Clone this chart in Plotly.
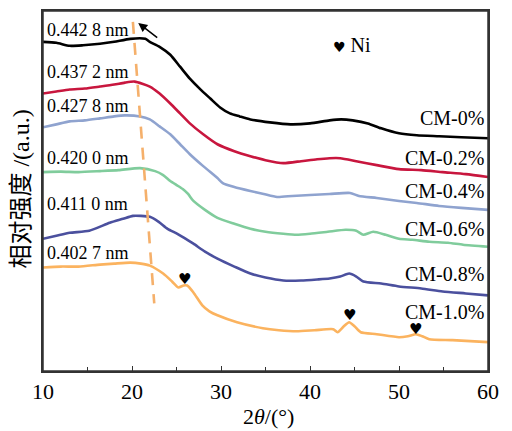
import plotly.graph_objects as go

# ---- data (2θ in degrees, relative intensity in arbitrary units) ----
series_names = ["CM-0%", "CM-0.2%", "CM-0.4%", "CM-0.6%", "CM-0.8%", "CM-1.0%"]
spacing_labels = ["0.442 8 nm", "0.437 2 nm", "0.427 8 nm", "0.420 0 nm", "0.411 0 nm", "0.402 7 nm"]

x_cm00 = [10.0, 11.5, 13.0, 14.5, 16.4, 18.0, 19.8, 21.5, 22.0, 23.1, 24.3, 25.4, 26.5, 27.6, 28.8, 29.9, 31.0, 32.1, 33.3, 35.5, 37.8, 40.0, 42.2, 43.5, 44.8, 46.5, 48.0, 50.0, 52.0, 54.5, 57.0, 60.0]
y_cm00 = [331, 330, 327, 327.5, 329, 331, 334, 334, 331, 326, 318, 306, 294, 284, 274, 265, 259, 256, 253, 250, 248, 249, 252, 253, 252, 249, 244, 239, 237, 236, 235, 234]

x_cm02 = [10.0, 11.5, 13.0, 14.7, 16.4, 18.0, 19.2, 20.3, 22.0, 23.1, 24.3, 25.4, 26.5, 28.0, 29.6, 31.5, 33.3, 35.0, 37.0, 39.0, 40.8, 42.2, 43.4, 45.2, 47.5, 50.0, 52.5, 54.9, 57.5, 60.0]
y_cm02 = [279, 281, 283, 284, 286, 288, 290, 291, 286, 279, 269, 259, 249, 238, 228, 221, 216, 212, 209, 211, 213, 214, 214, 211, 207, 203, 202, 200, 198, 195]

x_cm04 = [10.0, 11.5, 13.0, 14.7, 16.4, 18.0, 19.2, 20.9, 22.0, 23.1, 24.3, 25.4, 26.5, 28.0, 29.6, 30.2, 31.5, 33.3, 34.8, 36.3, 38.0, 40.0, 42.2, 44.5, 45.5, 47.5, 50.0, 52.0, 54.5, 57.0, 60.0]
y_cm04 = [245, 248, 251, 252, 254, 256, 257, 256, 253, 246, 238, 228, 218, 206, 194, 189, 185, 181, 178, 175, 176, 177, 178, 179, 176, 174, 171, 169, 166, 164, 162]

x_cm06 = [10.0, 12.0, 14.0, 16.4, 18.5, 20.9, 22.6, 23.5, 24.3, 25.0, 25.7, 26.3, 26.9, 28.2, 29.6, 31.5, 33.3, 35.0, 37.0, 38.5, 40.0, 42.0, 44.0, 45.2, 46.0, 47.1, 48.5, 50.0, 51.5, 53.4, 55.5, 57.2, 60.0]
y_cm06 = [200, 200.5, 200, 201, 202, 204, 201, 197, 191, 187, 183, 178, 171, 162, 154, 148, 143, 140, 138, 137, 138, 140, 142, 141, 137, 140, 137, 133, 132, 130, 129, 127, 125]

x_cm08 = [10.0, 11.5, 13.0, 15.2, 17.5, 19.0, 20.1, 21.0, 22.0, 23.0, 24.0, 25.1, 26.0, 26.9, 28.2, 29.6, 31.5, 33.3, 35.0, 37.0, 39.0, 40.8, 42.2, 43.4, 44.4, 45.2, 46.0, 48.0, 50.0, 52.5, 54.9, 57.5, 60.0]
y_cm08 = [133, 136, 139, 141, 149, 153, 156, 156, 155, 150, 143, 138, 133, 128, 120, 113, 105, 98, 94, 91, 91, 92, 93, 95, 98, 95, 90, 88, 85, 83, 80, 78, 76]

x_cm10 = [10.0, 12.0, 14.0, 16.4, 18.0, 19.8, 21.0, 22.0, 23.5, 24.5, 25.2, 25.8, 26.2, 26.9, 27.9, 28.7, 29.6, 31.8, 34.7, 36.5, 38.5, 40.5, 42.6, 43.1, 43.8, 44.4, 45.0, 45.7, 47.5, 50.0, 51.0, 51.9, 52.6, 53.4, 56.0, 60.0]
y_cm10 = [104, 105, 105, 107, 108, 109, 108, 106, 98, 90, 84, 86, 86, 79, 66, 60, 56, 49, 43, 41, 40, 41, 42, 39, 45, 49, 45, 39, 37, 34, 35, 37, 35, 32, 31, 29]

series_x = [x_cm00, x_cm02, x_cm04, x_cm06, x_cm08, x_cm10]
series_y = [y_cm00, y_cm02, y_cm04, y_cm06, y_cm08, y_cm10]
colors = ["#000000", "#c8163e", "#8fa3cf", "#80cc9c", "#4b509e", "#fbb35f"]

# label anchor positions (data coords)
spacing_label_y = [343, 301, 266, 214, 168, 119]
series_label_y = [254, 214, 181, 143, 98, 59]

# peak-shift guide line and arrow
shift_x = [20.1, 22.5]
shift_y = [351, 68]
arrow_head = (20.7, 350)
arrow_tail = (23.0, 334)

# Ni peak markers
ni_x = [25.9, 44.4, 51.9]
ni_y = [93, 56, 42]

serif = "Liberation Serif, Times New Roman, Noto Sans CJK SC, serif"

fig = go.Figure()
for name, xs, ys, c in zip(series_names, series_x, series_y, colors):
    fig.add_trace(go.Scatter(x=xs, y=ys, mode="lines", name=name,
                             line=dict(color=c, width=2.6, shape="spline", smoothing=0.6),
                             showlegend=False))

fig.add_trace(go.Scatter(x=shift_x, y=shift_y, mode="lines",
                         line=dict(color="#f5b06b", width=2.6, dash="12px,9px"),
                         showlegend=False))

ann = []
for lab, yy in zip(spacing_labels, spacing_label_y):
    ann.append(dict(x=10.2, y=yy, text=lab, showarrow=False, xanchor="left", yanchor="middle",
                    font=dict(family=serif, size=18, color="black")))
for lab, yy in zip(series_names, series_label_y):
    ann.append(dict(x=59.8, y=yy, text=lab, showarrow=False, xanchor="right", yanchor="middle",
                    font=dict(family=serif, size=20, color="black")))
for xx, yy in zip(ni_x, ni_y):
    ann.append(dict(x=xx, y=yy, text="♥", showarrow=False, xanchor="center", yanchor="middle",
                    font=dict(family="DejaVu Sans", size=15, color="black")))
ann.append(dict(x=42.4, y=328, text="<span style='font-family:DejaVu Sans;font-size:14px'>♥</span> Ni",
                showarrow=False, xanchor="left", yanchor="middle",
                font=dict(family=serif, size=20, color="black")))
ann.append(dict(x=arrow_head[0], y=arrow_head[1], ax=arrow_tail[0], ay=arrow_tail[1],
                axref="x", ayref="y", xref="x", yref="y", text="", showarrow=True,
                arrowhead=2, arrowsize=1.2, arrowwidth=1.5, arrowcolor="black"))
ann.append(dict(x=0.506, y=-0.125, xref="paper", yref="paper", text="2<i>θ</i>/(°)",
                showarrow=False, xanchor="center", yanchor="middle",
                font=dict(family=serif, size=22, color="black")))
ann.append(dict(x=-0.05, y=0.506, xref="paper", yref="paper", text="相对强度 /(a.u.)",
                showarrow=False, xanchor="center", yanchor="middle", textangle=-90,
                font=dict(family=serif, size=24, color="black")))

# page body has an 8px default margin; size the figure so the plot area lands where the reference has it
fig.update_layout(
    width=504, height=423,
    margin=dict(l=35, r=24, t=1, b=60),
    paper_bgcolor="white", plot_bgcolor="white",
    annotations=ann,
    shapes=[dict(type="rect", xref="paper", yref="paper", x0=0, y0=0, x1=1, y1=1,
                 line=dict(color="#333", width=1.5), layer="above")],
    xaxis=dict(range=[10, 60], tickvals=[10, 20, 30, 40, 50, 60], ticks="inside", ticklen=5,
               tickwidth=1.2, tickcolor="#333", showline=True, linecolor="#333", linewidth=1.5,
               mirror=True, showgrid=False, zeroline=False,
               minor=dict(tickvals=[15, 25, 35, 45, 55], ticks="inside", ticklen=4, tickcolor="#333"),
               tickfont=dict(family=serif, size=22, color="black")),
    yaxis=dict(range=[0, 362], showticklabels=False, ticks="", showline=True, linecolor="#333",
               linewidth=1.5, mirror=True, showgrid=False, zeroline=False),
)

fig.write_html("out.html")
